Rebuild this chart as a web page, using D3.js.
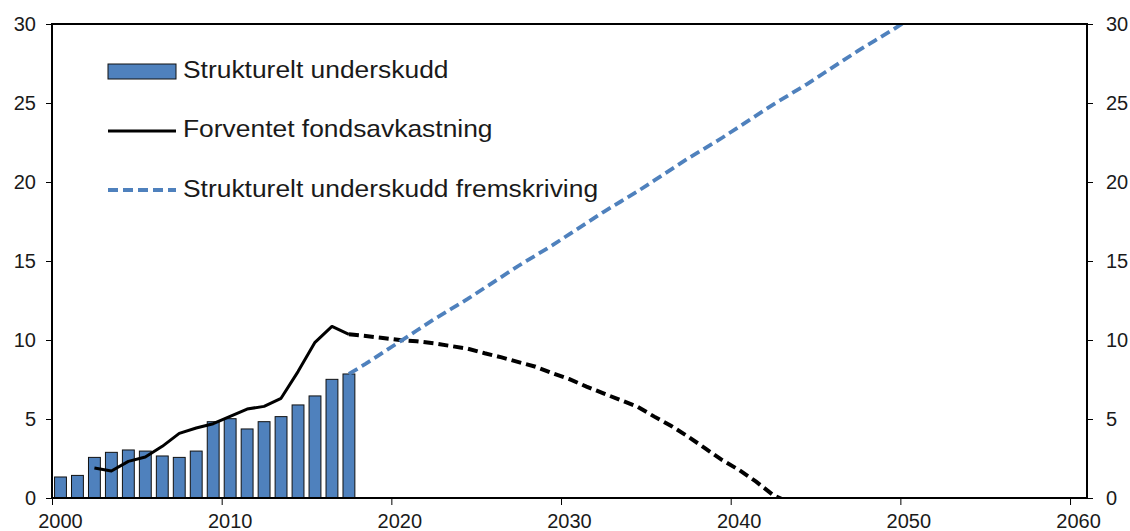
<!DOCTYPE html>
<html><head><meta charset="utf-8">
<script src="https://cdn.jsdelivr.net/npm/d3@7"></script>
<style>
html,body{margin:0;padding:0;background:#fff;}
text{font-family:"Liberation Sans",Arial,sans-serif;fill:#1a1a1a;}
</style></head>
<body><svg id="c" width="1130" height="531"></svg>
<script>
// Data
const barYears = [2000,2001,2002,2003,2004,2005,2006,2007,2008,2009,2010,2011,2012,2013,2014,2015,2016,2017];
const barValues = [1.33,1.43,2.57,2.89,3.04,2.97,2.66,2.57,2.97,4.83,5.02,4.37,4.83,5.15,5.89,6.46,7.51,7.85];

const returnYears = [2002,2003,2004,2005,2006,2007,2008,2009,2010,2011,2012,2013,2014,2015,2016,2017];
const returnValues = [1.90,1.71,2.32,2.59,3.27,4.09,4.43,4.70,5.17,5.63,5.80,6.31,8.0,9.85,10.86,10.36];

const returnProjYears = [2017,2018,2019,2020,2021,2022,2023,2024,2025,2026,2027,2028,2029,2030,2031,2032,2033,2034,2035,2036,2037,2038,2039,2040,2041,2042,2043];
const returnProjValues = [10.36,10.25,10.13,10.0,9.92,9.79,9.62,9.45,9.16,8.9,8.6,8.31,7.89,7.52,7.05,6.62,6.2,5.78,5.15,4.56,3.88,3.14,2.4,1.77,1.03,0.19,-0.3];

const deficitProjYears = [2017,2018,2019,2020,2021,2022,2023,2024,2025,2026,2027,2028,2029,2030,2031,2032,2033,2034,2035,2036,2037,2038,2039,2040,2041,2042,2043,2044,2045,2046,2047,2048,2049,2050];
const deficitProjValues = [7.85,8.5,9.2,9.9,10.6,11.3,11.95,12.6,13.3,14.0,14.7,15.35,16.0,16.7,17.4,18.1,18.75,19.4,20.1,20.8,21.5,22.15,22.8,23.5,24.2,24.9,25.55,26.2,26.9,27.6,28.3,28.95,29.6,30.3];

const xTickYears = [2000,2010,2020,2030,2040,2050,2060];
const yTicks = [0,5,10,15,20,25,30];
const legendLabels = ["Strukturelt underskudd","Forventet fondsavkastning","Strukturelt underskudd fremskriving"];

const BLUE = "#4F81BD";
const svg = d3.select("#c");
const L = 52, R = 1087, T = 24, B = 498;
const x = d3.scaleLinear().domain([2000, 2061]).range([L, R]);
const y = d3.scaleLinear().domain([0, 30]).range([B, T]);
const cx = yr => x(yr + 0.5);
const band = x(2001) - x(2000);
const bw = band * 0.70;

svg.append("defs").append("clipPath").attr("id","plot")
  .append("rect").attr("x",L).attr("y",T).attr("width",R-L).attr("height",B-T);

// bars
svg.append("g").selectAll("rect").data(barYears).join("rect")
  .attr("x", (d)=>cx(d)-bw/2)
  .attr("y", (d,i)=>y(barValues[i]))
  .attr("width", bw)
  .attr("height", (d,i)=>y(0)-y(barValues[i]))
  .attr("fill", BLUE).attr("stroke","#111").attr("stroke-width",1);

const line = d3.line().x(d=>cx(d[0])).y(d=>y(d[1]));
const g = svg.append("g").attr("clip-path","url(#plot)");

g.append("path").datum(returnProjYears.map((d,i)=>[d,returnProjValues[i]]))
  .attr("d", line).attr("fill","none").attr("stroke","#000")
  .attr("stroke-width",4).attr("stroke-dasharray","10,5");

g.append("path").datum(deficitProjYears.map((d,i)=>[d,deficitProjValues[i]]))
  .attr("d", line).attr("fill","none").attr("stroke",BLUE)
  .attr("stroke-width",3.8).attr("stroke-dasharray","10,5");

g.append("path").datum(returnYears.map((d,i)=>[d,returnValues[i]]))
  .attr("d", line).attr("fill","none").attr("stroke","#000")
  .attr("stroke-width",3).attr("stroke-linejoin","round");

// axes
const yl = svg.append("g").attr("transform",`translate(${L},0)`)
  .call(d3.axisLeft(y).tickValues(yTicks).tickSize(6).tickPadding(10));
const yr = svg.append("g").attr("transform",`translate(${R},0)`)
  .call(d3.axisRight(y).tickValues(yTicks).tickSize(6).tickPadding(13));
const xa = svg.append("g").attr("transform",`translate(0,${B})`)
  .call(d3.axisBottom(x).tickValues(xTickYears).tickSize(7).tickFormat(()=>""));
[yl,yr,xa].forEach(a=>{
  a.select(".domain").remove();
  a.selectAll(".tick line").attr("stroke","#000").attr("stroke-width",1);
  a.selectAll("text").style("font-size","20px").attr("fill","#1a1a1a");
});
yl.selectAll("text").attr("dy","0.32em");
yr.selectAll("text").attr("dy","0.32em");

// x labels centered on categories
svg.append("g").selectAll("text").data(xTickYears).join("text")
  .attr("x", d=>cx(d)).attr("y", 528).attr("text-anchor","middle")
  .style("font-size","20px").text(d=>d);

// frame
svg.append("rect").attr("x",L).attr("y",T).attr("width",R-L).attr("height",B-T)
  .attr("fill","none").attr("stroke","#000").attr("stroke-width",2);

// legend
const lg = svg.append("g");
lg.append("rect").attr("x",108).attr("y",64).attr("width",68).attr("height",15)
  .attr("fill",BLUE).attr("stroke","#111").attr("stroke-width",1);
lg.append("line").attr("x1",108).attr("x2",176).attr("y1",131).attr("y2",131)
  .attr("stroke","#000").attr("stroke-width",3);
lg.append("line").attr("x1",108).attr("x2",176).attr("y1",190).attr("y2",190)
  .attr("stroke",BLUE).attr("stroke-width",3.8).attr("stroke-dasharray","10,5");
const ly = [78,137,197];
lg.selectAll("text").data(legendLabels).join("text")
  .attr("transform",(d,i)=>`translate(183,${ly[i]}) scale(1.1,1)`)
  .style("font-size","24px").text(d=>d);
</script></body></html>
